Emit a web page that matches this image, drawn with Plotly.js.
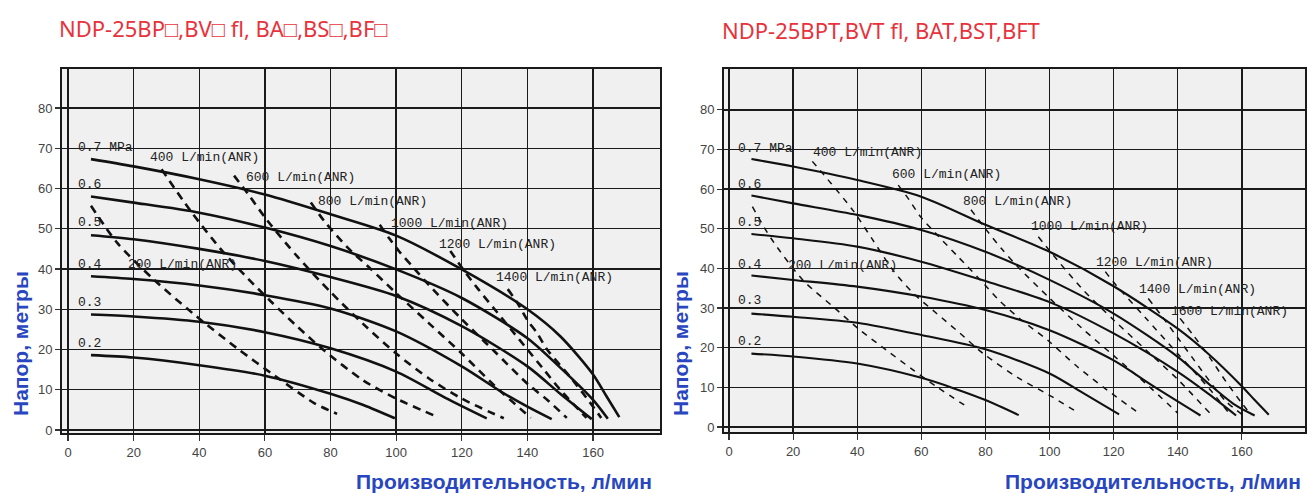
<!DOCTYPE html>
<html><head><meta charset="utf-8">
<script src="https://cdn.plot.ly/plotly-3.0.1.min.js"></script>
<style>html,body{margin:0;padding:0;background:#fff}#c{width:1311px;height:493px}</style>
</head><body><div id="c"></div>
<script>
// ---------- Left chart: pressure curves (solid) ----------
const LP07_x=[7,20,40,60,80,100,120,140,150,160,164,168];
const LP07_y=[67.3,65.5,62.3,58.5,53.6,48.3,39.9,30.0,23.3,13.8,8.5,3.2];
const LP06_x=[7,20,40,60,80,100,120,140,150,160,164.5];
const LP06_y=[58.0,56.5,54.0,50.3,45.7,39.9,32.8,22.8,15.5,7.5,2.8];
const LP05_x=[7,20,40,60,80,100,120,140,150,159.6];
const LP05_y=[48.4,47.4,45.0,42.0,38.0,33.3,25.8,15.8,9.0,2.7];
const LP04_x=[7,20,40,60,80,100,120,132,140,147.4];
const LP04_y=[38.2,37.5,35.9,33.5,30.2,24.5,15.8,9.5,5.8,2.7];
const LP03_x=[7,20,40,60,80,100,115,127.6];
const LP03_y=[28.7,28.2,26.9,24.3,20.3,14.5,8.0,2.9];
const LP02_x=[7,20,40,60,80,90,99.6];
const LP02_y=[18.6,18.0,16.1,13.5,9.0,6.2,2.9];
// ---------- Left chart: air consumption (dashed) ----------
const LA200_x=[7,15,26,38,52,63,75,82];
const LA200_y=[55.7,46.5,37.5,29.0,20.0,13.5,6.7,4.0];
const LA400_x=[28.5,37.3,47,55,62,70,78,90,100,111.3];
const LA400_y=[64.8,54.5,44.5,37.5,31.8,25.6,19.8,12.3,7.8,3.7];
const LA600_x=[50.6,55,60.6,70,80,90,100,110,120,132.8];
const LA600_y=[63.2,58.5,52.2,43,34.3,26.3,19,12.8,7.8,2.9];
const LA800_x=[74,78,85,92,100,110,120,130,141];
const LA800_y=[56.5,52,45.5,40.2,34,26.5,19,11,3];
const LA1000_x=[95,98,101,105,110,120,130,140,146,152];
const LA1000_y=[51,47.5,44.3,40.6,36,27.5,19.5,11.5,7.5,3];
const LA1200_x=[116.5,120.5,125,130,135,140,145,150,158];
const LA1200_y=[44.5,39.8,35,30,25,20,15,10,3];
const LA1400_x=[134,137,140,143,146,153,158,162.5];
const LA1400_y=[35,31.5,27.3,24,20,13.2,8,3];
// ---------- Right chart: pressure curves (solid) ----------
const RP07_x=[7,20,40,60,80,100,120,140,149.5,160,164,168.4];
const RP07_y=[67.6,65.7,62.3,58.1,51.0,44.2,35.5,24.8,18.5,10.3,6.8,3.1];
const RP06_x=[7,20,40,60,80,100,120,140,149.5,158,164];
const RP06_y=[58.4,56.4,53.5,49.7,44.2,37.1,28.6,17.7,11.0,5.5,2.9];
const RP05_x=[7,20,40,60,80,100,120,140,149.5,158.2];
const RP05_y=[48.7,47.6,45.5,41.7,36.8,31.5,23.6,13.9,8.4,2.9];
const RP04_x=[7,20,40,60,80,100,120,132,147.1];
const RP04_y=[38.2,37.1,35.4,32.9,29.5,24.4,16.8,10.5,2.9];
const RP03_x=[7,20,40,60,80,100,110.8,121.7];
const RP03_y=[28.6,27.8,26.3,23.2,19.6,13.5,8.4,3.2];
const RP02_x=[7,20,40,60,70,80,90.4];
const RP02_y=[18.5,17.8,16.0,12.4,9.8,6.8,3.0];
// ---------- Right chart: air consumption (dashed) ----------
const RA200_x=[7.3,13.1,23,33,40.8,49.1,57.4,64.7,75];
const RA200_y=[55.6,47.6,37.1,30,24.5,19.4,14.4,10.2,4.7];
const RA400_x=[26,31.8,38.8,44.6,51.2,57.4,64.7,72,79.2,90,100,108.5];
const RA400_y=[67,61.5,54.5,47.5,39.5,33.8,28.7,23.7,18.6,12.5,8,3.8];
const RA600_x=[52.8,56.2,59.7,64.4,71.4,78.4,84.2,91.2,99.4,108.7,118,127];
const RA600_y=[61,57.3,53.1,48.9,43,37.1,32,27,21.9,15.2,9.3,4];
const RA800_x=[75.5,80,85,90,100,110,120,130,140];
const RA800_y=[54.8,50,45,40.5,32.5,25,18,11,3.5];
const RA1000_x=[96.5,100,110,120,130,140,150];
const RA1000_y=[48,44.5,35,27,19.5,12,3.5];
const RA1200_x=[117.4,120,130,140,150,156];
const RA1200_y=[39.2,36.5,27.5,18.5,9.5,3.5];
const RA1400_x=[130.8,135,140,145,150,155,160];
const RA1400_y=[32.4,28,22.5,17,11.5,6.5,3.2];
const RA1600_x=[140.7,145,150,155,160,163];
const RA1600_y=[27.4,23,17.5,11.5,6,3];

// ---------- Labels ----------
const pressureLabels=['0.7 MPa','0.6','0.5','0.4','0.3','0.2'];
const L_pressY=[70.2,61,51.5,41,31.8,21.5];
const R_pressY=[70.3,61.1,51.6,40.9,31.8,21.5];
const L_flowLabels=['200 L/min(ANR)','400 L/min(ANR)','600 L/min(ANR)','800 L/min(ANR)','1000 L/min(ANR)','1200 L/min(ANR)','1400 L/min(ANR)'];
const L_flowX=[17.8,24.4,53.6,75.7,97.9,112.4,129.9];
const L_flowY=[41.0,67.7,62.8,56.9,51.4,46.0,37.8];
const R_flowLabels=['200 L/min(ANR)','400 L/min(ANR)','600 L/min(ANR)','800 L/min(ANR)','1000 L/min(ANR)','1200 L/min(ANR)','1400 L/min(ANR)','1600 L/min(ANR)'];
const R_flowX=[17.8,25.7,50.2,72.3,93.5,114,127.3,137.2];
const R_flowY=[40.7,69.2,63.6,56.9,50.7,41.4,34.8,29.1];
const xTicks=[0,20,40,60,80,100,120,140,160];
const yTicks=[0,10,20,30,40,50,60,70,80];
const titleLeft='NDP-25BP□,BV□ fl, BA□,BS□,BF□';
const titleRight='NDP-25BPT,BVT fl, BAT,BST,BFT';
const yTitle='Напор, метры';
const xTitle='Производительность, л/мин';

const traces=[];
function solid(x,y,xa,ya,w){traces.push({x:x,y:y,xaxis:xa,yaxis:ya,mode:'lines',line:{color:'#111',width:w,shape:'spline',smoothing:0.8},hoverinfo:'skip'});}
function dashed(x,y,xa,ya,w,d){traces.push({x:x,y:y,xaxis:xa,yaxis:ya,mode:'lines',line:{color:'#111',width:w,dash:d,shape:'spline',smoothing:0.8},hoverinfo:'skip'});}
[[LP07_x,LP07_y],[LP06_x,LP06_y],[LP05_x,LP05_y],[LP04_x,LP04_y],[LP03_x,LP03_y],[LP02_x,LP02_y]].forEach(p=>solid(p[0],p[1],'x','y',2.6));
[[LA200_x,LA200_y],[LA400_x,LA400_y],[LA600_x,LA600_y],[LA800_x,LA800_y],[LA1000_x,LA1000_y],[LA1200_x,LA1200_y],[LA1400_x,LA1400_y]].forEach(p=>dashed(p[0],p[1],'x','y',2.6,'8px,6px'));
[[RP07_x,RP07_y],[RP06_x,RP06_y],[RP05_x,RP05_y],[RP04_x,RP04_y],[RP03_x,RP03_y],[RP02_x,RP02_y]].forEach(p=>solid(p[0],p[1],'x2','y2',2.1));
[[RA200_x,RA200_y],[RA400_x,RA400_y],[RA600_x,RA600_y],[RA800_x,RA800_y],[RA1000_x,RA1000_y],[RA1200_x,RA1200_y],[RA1400_x,RA1400_y],[RA1600_x,RA1600_y]].forEach(p=>dashed(p[0],p[1],'x2','y2',1.5,'6px,6px'));

const ann=[];
const monoFont={family:'Liberation Mono, DejaVu Sans Mono, monospace',size:13,color:'#222'};
pressureLabels.forEach((t,i)=>{
  ann.push({xref:'x',yref:'y',x:2.3,y:L_pressY[i],text:t,showarrow:false,xanchor:'left',yanchor:'middle',font:monoFont});
  ann.push({xref:'x2',yref:'y2',x:2.1,y:R_pressY[i],text:t,showarrow:false,xanchor:'left',yanchor:'middle',font:monoFont});
});
L_flowLabels.forEach((t,i)=>ann.push({xref:'x',yref:'y',x:L_flowX[i],y:L_flowY[i],text:t,showarrow:false,xanchor:'left',yanchor:'middle',font:monoFont}));
R_flowLabels.forEach((t,i)=>ann.push({xref:'x2',yref:'y2',x:R_flowX[i],y:R_flowY[i],text:t,showarrow:false,xanchor:'left',yanchor:'middle',font:monoFont}));
const redFont={family:'Noto Sans, Open Sans, sans-serif',size:22,color:'#e8323c'};
ann.push({xref:'paper',yref:'paper',x:57/1311,y:1-28/493,text:titleLeft,showarrow:false,xanchor:'left',yanchor:'middle',font:redFont});
ann.push({xref:'paper',yref:'paper',x:720/1311,y:1-30/493,text:titleRight,showarrow:false,xanchor:'left',yanchor:'middle',font:redFont});
const blueFontY={family:'Liberation Sans, Arial, sans-serif',size:21,color:'#2846c0'};
const blueFontX={family:'Liberation Sans, Arial, sans-serif',size:21,color:'#2846c0'};
ann.push({xref:'paper',yref:'paper',x:20/1311,y:1-344/493,text:'<b>'+yTitle+'</b>',textangle:-90,showarrow:false,xanchor:'center',yanchor:'middle',font:blueFontY});
ann.push({xref:'paper',yref:'paper',x:680/1311,y:1-344/493,text:'<b>'+yTitle+'</b>',textangle:-90,showarrow:false,xanchor:'center',yanchor:'middle',font:blueFontY});
ann.push({xref:'paper',yref:'paper',x:504/1311,y:1-481/493,text:'<b>'+xTitle+'</b>',showarrow:false,xanchor:'center',yanchor:'middle',font:blueFontX});
ann.push({xref:'paper',yref:'paper',x:1153/1311,y:1-481/493,text:'<b>'+xTitle+'</b>',showarrow:false,xanchor:'center',yanchor:'middle',font:blueFontX});

const tickFont={family:'Liberation Sans, Arial, sans-serif',size:13,color:'#444'};
function xax(dom,rng,anc){return {domain:dom,range:rng,anchor:anc,tickvals:xTicks,ticktext:xTicks.map(String),showgrid:true,gridcolor:'#1a1a1a',gridwidth:1.4,zeroline:false,showline:true,mirror:true,linecolor:'#1a1a1a',linewidth:2,ticks:'outside',ticklen:6,tickcolor:'#333',tickwidth:1.2,tickfont:tickFont,fixedrange:true};}
function yax(dom,rng,anc){return {domain:dom,range:rng,anchor:anc,tickvals:yTicks,ticktext:yTicks.map(String),showgrid:true,gridcolor:'#1a1a1a',gridwidth:1.4,zeroline:false,showline:true,mirror:true,linecolor:'#1a1a1a',linewidth:2,ticks:'outside',ticklen:5,tickcolor:'#333',tickwidth:1.2,tickfont:tickFont,fixedrange:true};}
const layout={
  width:1311,height:493,margin:{l:0,r:0,t:0,b:0},
  paper_bgcolor:'#ffffff',plot_bgcolor:'#f0f0f0',showlegend:false,
  xaxis:xax([62/1311,660/1311],[-1.83,180.4],'y'),
  yaxis:yax([1-433/493,1-69/493],[-0.75,89.7],'x'),
  xaxis2:xax([724/1311,1305/1311],[-1.56,179.7],'y2'),
  yaxis2:yax([1-432/493,1-69/493],[-1.26,90.3],'x2'),
  annotations:ann
};
Plotly.newPlot('c',traces,layout,{staticPlot:true,displayModeBar:false});
</script></body></html>
